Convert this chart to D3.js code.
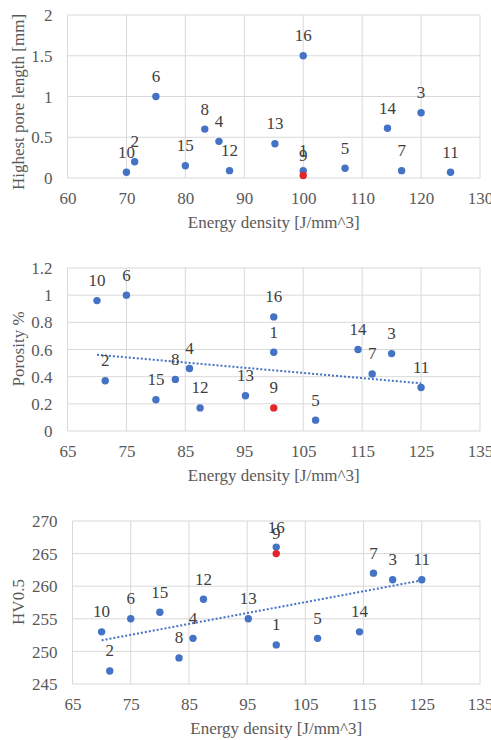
<!DOCTYPE html>
<html>
<head>
<meta charset="utf-8">
<script src="https://cdn.jsdelivr.net/npm/d3@7"></script>
<style>
  html, body { margin: 0; padding: 0; background: #fff; }
  svg { display: block; }
  svg text { font-family: "Liberation Serif", "Times New Roman", serif; }
</style>
</head>
<body>
<svg id="chart" width="491" height="740"></svg>
<script>
// Sample numbers and their measured properties
const sampleIds = [1, 2, 3, 4, 5, 6, 7, 8, 9, 10, 11, 12, 13, 14, 15, 16];
const energyDensity = [100, 71.4, 120, 85.7, 107.1, 75, 116.7, 83.3, 100, 70, 125, 87.5, 95.2, 114.3, 80, 100];
const highestPoreLength = [0.09, 0.2, 0.8, 0.45, 0.12, 1.0, 0.09, 0.6, 0.03, 0.07, 0.07, 0.09, 0.42, 0.61, 0.15, 1.5];
const porosity = [0.58, 0.37, 0.57, 0.46, 0.08, 1.0, 0.42, 0.38, 0.17, 0.96, 0.32, 0.17, 0.26, 0.6, 0.23, 0.84];
const hardness = [251, 247, 261, 252, 252, 255, 262, 249, 265, 253, 261, 258, 255, 253, 256, 266];
const highlightedSample = 9;

// Axis tick values
const xTicksPore = [60, 70, 80, 90, 100, 110, 120, 130];
const xTicksOther = [65, 75, 85, 95, 105, 115, 125, 135];
const yTicksPore = [0, 0.5, 1, 1.5, 2];
const yTicksPorosity = [0, 0.2, 0.4, 0.6, 0.8, 1, 1.2];
const yTicksHardness = [245, 250, 255, 260, 265, 270];

const xTitle = "Energy density [J/mm^3]";

const panels = [
  { values: highestPoreLength, yTitle: "Highest pore length [mm]", xTicks: xTicksPore, yTicks: yTicksPore,
    left: 67.5, right: 480, top: 15, bottom: 178, titleY: 102, trend: false },
  { values: porosity, yTitle: "Porosity %", xTicks: xTicksOther, yTicks: yTicksPorosity,
    left: 67.5, right: 480, top: 268, bottom: 431, titleY: 349, trend: true },
  { values: hardness, yTitle: "HV0.5", xTicks: xTicksOther, yTicks: yTicksHardness,
    left: 72.5, right: 480, top: 521, bottom: 684, titleY: 602, trend: true }
];

const svg = d3.select("#chart");
const serif = "'Liberation Serif', 'Times New Roman', serif";
const blue = "#4472C4";
const red = "#E2242C";
const gridColor = "#d9d9d9";
const tickColor = "#595959";
const labelColor = "#404040";
const fontSize = 17;

// Least-squares line through all points
function linearFit(xs, ys) {
  const mx = d3.mean(xs), my = d3.mean(ys);
  let sxy = 0, sxx = 0;
  xs.forEach((x, i) => { sxy += (x - mx) * (ys[i] - my); sxx += (x - mx) * (x - mx); });
  const slope = sxy / sxx;
  return x => my + slope * (x - mx);
}

panels.forEach(p => {
  const x = d3.scaleLinear().domain(d3.extent(p.xTicks)).range([p.left, p.right]);
  const y = d3.scaleLinear().domain(d3.extent(p.yTicks)).range([p.bottom, p.top]);
  const g = svg.append("g").attr("font-family", serif);

  // Gridlines
  g.append("g").selectAll("line").data(p.yTicks).join("line")
    .attr("x1", p.left).attr("x2", p.right)
    .attr("y1", d => y(d)).attr("y2", d => y(d))
    .attr("stroke", gridColor).attr("stroke-width", 1);
  g.append("g").selectAll("line").data(p.xTicks).join("line")
    .attr("x1", d => x(d)).attr("x2", d => x(d))
    .attr("y1", p.top).attr("y2", p.bottom)
    .attr("stroke", gridColor).attr("stroke-width", 1);

  // Axes (labels only, no tick marks or domain lines)
  const xAxis = g.append("g").attr("transform", `translate(0,${p.bottom})`)
    .call(d3.axisBottom(x).tickValues(p.xTicks).tickSize(0).tickPadding(14).tickFormat(d3.format("d")));
  const yAxis = g.append("g").attr("transform", `translate(${p.left},0)`)
    .call(d3.axisLeft(y).tickValues(p.yTicks).tickSize(0).tickPadding(15).tickFormat(d => String(d)));
  [xAxis, yAxis].forEach(a => {
    a.attr("font-family", serif).attr("font-size", fontSize);
    a.select(".domain").remove();
    a.selectAll("text").attr("fill", tickColor).attr("font-family", serif).attr("font-size", fontSize);
  });
  xAxis.selectAll("text").attr("dy", "0.68em");
  yAxis.selectAll("text").attr("dy", "0.33em");

  // Axis titles
  g.append("text")
    .attr("x", (p.left + p.right) / 2)
    .attr("y", p.bottom + 50)
    .attr("text-anchor", "middle").attr("fill", tickColor)
    .attr("font-family", serif).attr("font-size", fontSize)
    .text(xTitle);
  g.append("text")
    .attr("transform", `translate(24,${p.titleY}) rotate(-90)`)
    .attr("text-anchor", "middle").attr("fill", tickColor)
    .attr("font-family", serif).attr("font-size", fontSize)
    .text(p.yTitle);

  // Linear trendline
  if (p.trend) {
    const fit = linearFit(energyDensity, p.values);
    const [x0, x1] = d3.extent(energyDensity);
    g.append("line")
      .attr("x1", x(x0)).attr("y1", y(fit(x0)))
      .attr("x2", x(x1)).attr("y2", y(fit(x1)))
      .attr("stroke", blue).attr("stroke-width", 2).attr("stroke-dasharray", "2 2");
  }

  const pts = sampleIds.map((id, i) => ({ id, ed: energyDensity[i], v: p.values[i] }));
  const ordered = pts.filter(d => d.id !== highlightedSample).concat(pts.filter(d => d.id === highlightedSample));

  // Markers
  g.append("g").selectAll("circle").data(ordered).join("circle")
    .attr("cx", d => x(d.ed)).attr("cy", d => y(d.v)).attr("r", 3.7)
    .attr("fill", d => d.id === highlightedSample ? red : blue);

  // Sample number labels
  g.append("g").selectAll("text").data(ordered).join("text")
    .attr("x", d => x(d.ed)).attr("y", d => y(d.v) - 14.5)
    .attr("text-anchor", "middle").attr("fill", labelColor)
    .attr("font-family", serif).attr("font-size", fontSize)
    .text(d => d.id);
});
</script>
</body>
</html>
